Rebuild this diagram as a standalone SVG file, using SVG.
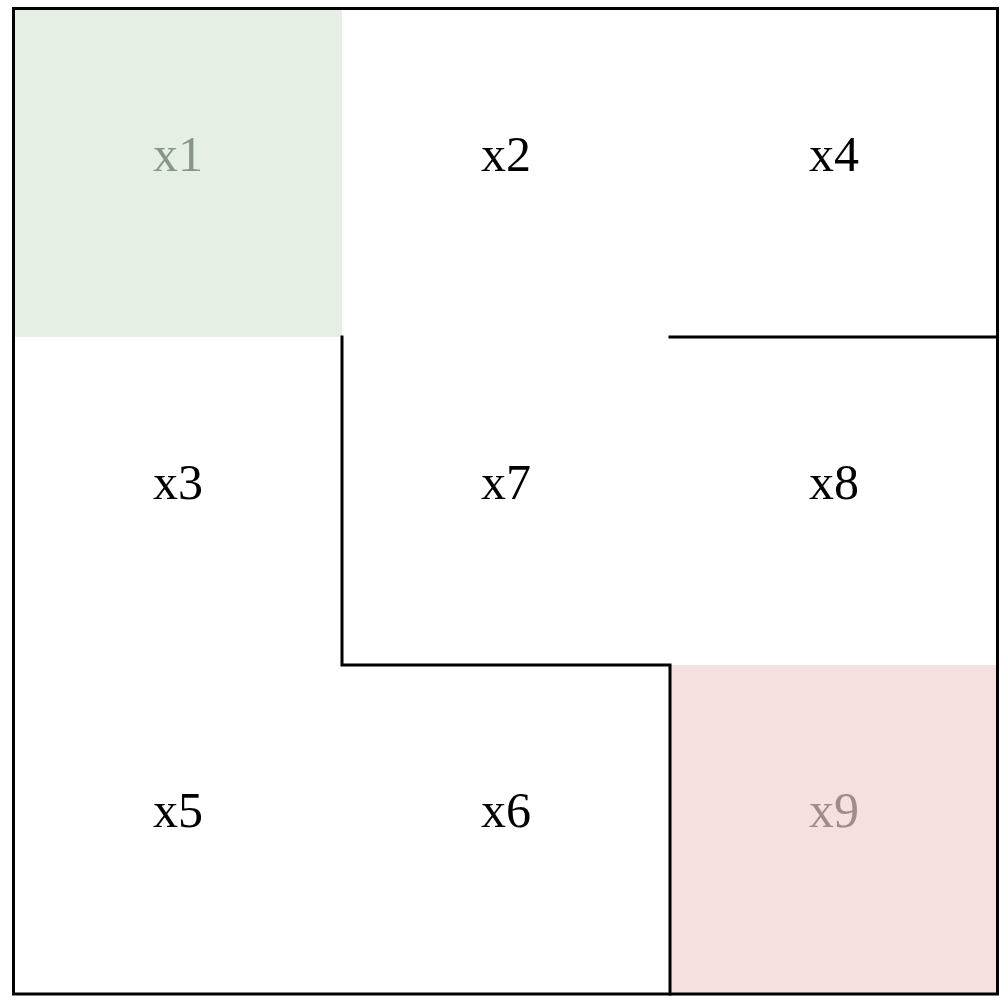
<svg xmlns="http://www.w3.org/2000/svg" width="1008" height="1006" viewBox="0 0 1008 1006">
<style>
.lbl{font-family:"Liberation Serif","Times New Roman",serif;font-size:50px;text-anchor:middle;fill:#000}
.wall{stroke:#000;stroke-width:3;fill:none;stroke-linecap:square}
</style>
<rect width="1008" height="1006" fill="#fff"/>
<g id="x1"><rect x="14" y="10" width="328" height="327" fill="#e6efe4"/><text class="lbl" x="178" y="171" style="fill:#87968a">x1</text></g>
<g id="x2"><text class="lbl" x="506" y="171">x2</text></g>
<g id="x4"><text class="lbl" x="834" y="171">x4</text></g>
<g id="x3"><text class="lbl" x="178" y="499">x3</text></g>
<g id="x7"><text class="lbl" x="506" y="499">x7</text></g>
<g id="x8"><text class="lbl" x="834" y="499">x8</text></g>
<g id="x5"><text class="lbl" x="178" y="827">x5</text></g>
<g id="x6"><text class="lbl" x="506" y="827">x6</text></g>
<g id="x9"><rect x="670" y="665" width="327" height="328" fill="#f5dfdf"/><text class="lbl" x="834" y="827" style="fill:#a08a8a">x9</text></g>
<g id="connectors">
<rect class="wall" x="13.5" y="8.5" width="984" height="985.5"/>
<polyline class="wall" points="342,337 342,665 670,665 670,994"/>
<line class="wall" x1="670" y1="337" x2="997.5" y2="337"/>
</g>
</svg>
